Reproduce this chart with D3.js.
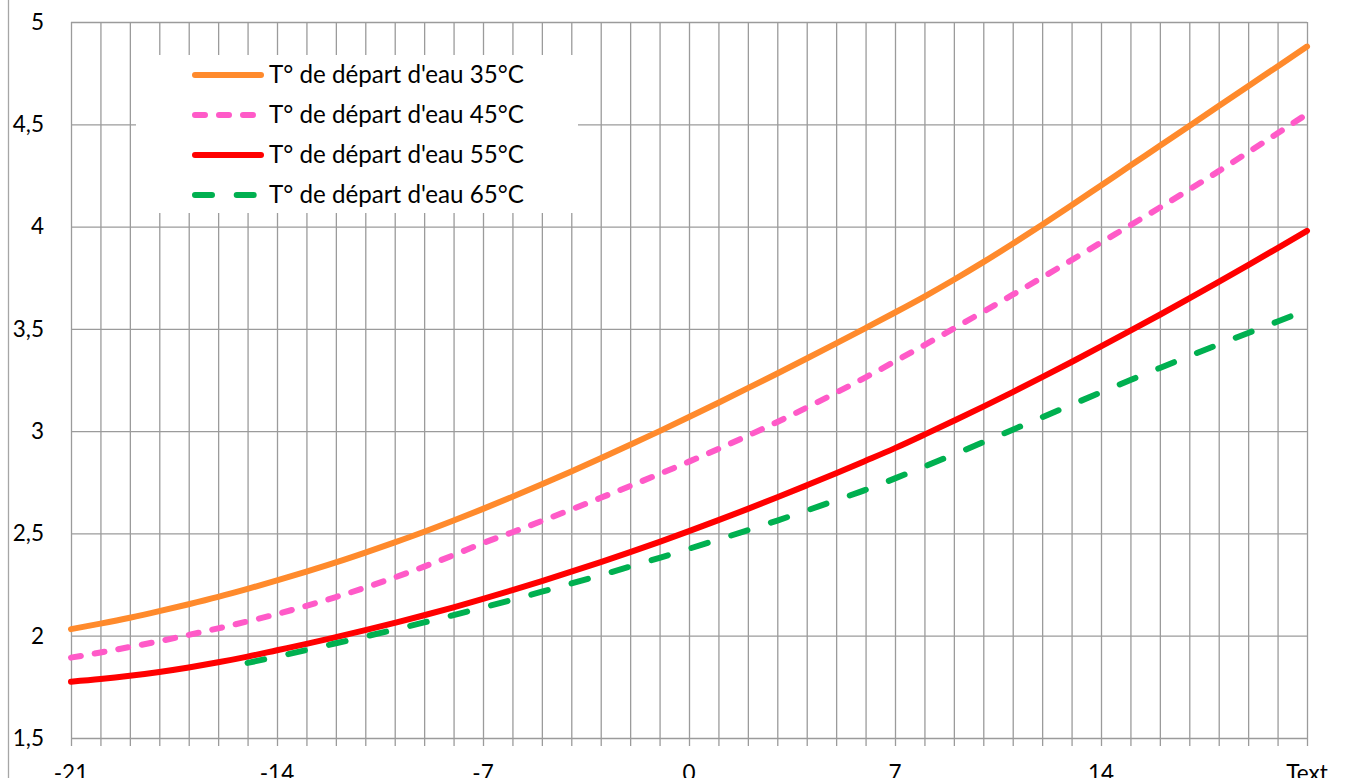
<!DOCTYPE html>
<html>
<head>
<meta charset="utf-8">
<script src="https://cdn.jsdelivr.net/npm/d3@7"></script>
<style>
  html, body { margin: 0; padding: 0; background: #fff; overflow: hidden; }
  svg { display: block; }
  text { font-family: Lato, "Open Sans", sans-serif; fill: #000; }
</style>
</head>
<body>
<svg id="chart" width="1361" height="778"></svg>
<script>
// ---- data ----
const tempExt = [-21,-20,-19,-18,-17,-16,-15,-14,-13,-12,-11,-10,-9,-8,-7,-6,-5,-4,-3,-2,-1,0,1,2,3,4,5,6,7,8,9,10,11,12,13,14,15,16,17,18,19,20,21];
const cop35 = [2.032,2.059,2.088,2.120,2.154,2.190,2.229,2.270,2.313,2.358,2.406,2.456,2.508,2.563,2.620,2.679,2.740,2.803,2.867,2.933,3.000,3.069,3.139,3.210,3.282,3.355,3.429,3.504,3.580,3.658,3.740,3.826,3.916,4.009,4.104,4.201,4.298,4.395,4.492,4.589,4.686,4.783,4.880];
const cop45 = [1.893,1.918,1.945,1.973,2.004,2.036,2.070,2.106,2.146,2.189,2.235,2.285,2.338,2.394,2.453,2.506,2.561,2.617,2.674,2.732,2.791,2.851,2.913,2.978,3.045,3.115,3.188,3.263,3.341,3.421,3.502,3.584,3.667,3.751,3.836,3.922,4.007,4.093,4.181,4.271,4.363,4.456,4.550];
const cop55 = [1.775,1.788,1.804,1.823,1.845,1.870,1.898,1.929,1.960,1.993,2.027,2.063,2.100,2.139,2.180,2.223,2.267,2.313,2.360,2.409,2.459,2.511,2.565,2.620,2.677,2.735,2.794,2.855,2.917,2.983,3.051,3.120,3.191,3.264,3.338,3.414,3.491,3.569,3.649,3.730,3.812,3.895,3.979];
const cop65 = [null,null,null,null,null,null,1.867,1.898,1.930,1.963,1.996,2.030,2.065,2.101,2.138,2.176,2.215,2.255,2.296,2.338,2.381,2.425,2.470,2.516,2.563,2.612,2.662,2.713,2.769,2.827,2.886,2.946,3.007,3.068,3.129,3.190,3.250,3.309,3.367,3.424,3.480,3.536,3.592];
const seriesNames = ["T° de départ d'eau 35°C","T° de départ d'eau 45°C","T° de départ d'eau 55°C","T° de départ d'eau 65°C"];
const xTickValues = [-21,-14,-7,0,7,14,21];
const xTickLabels = ["-21","-14","-7","0","7","14","Text"];
const yTickValues = [1.5,2,2.5,3,3.5,4,4.5,5];

// ---- styles ----
const seriesStyles = [
  {color:"#FF8A2C", dash:null,      width:6},
  {color:"#FF5AC8", dash:"10,14",   width:6},
  {color:"#FF0000", dash:null,      width:6},
  {color:"#00B050", dash:"17,24.7", width:6}
];
const seriesData = [cop35, cop45, cop55, cop65];

const svg = d3.select("#chart");
const x = d3.scaleLinear().domain([-21,21]).range([71,1307]);
const y = d3.scaleLinear().domain([1.5,5]).range([738,22]);
const gridColor = "#9b9b9b";

// outer border fragment at left
svg.append("line").attr("x1",8.5).attr("x2",8.5).attr("y1",0).attr("y2",778)
  .attr("stroke","#a6a6a6").attr("stroke-width",1.3);

// vertical grid (with tick extension below axis)
svg.append("g")
  .attr("transform","translate(0,738)")
  .call(d3.axisBottom(x).tickValues(tempExt).tickSize(-(738-22)).tickFormat(""))
  .call(g=>g.select(".domain").remove())
  .call(g=>g.selectAll(".tick line").attr("stroke",gridColor).attr("stroke-width",1.3).attr("y1",8));

// horizontal grid
svg.append("g")
  .attr("transform","translate(71,0)")
  .call(d3.axisLeft(y).tickValues(yTickValues).tickSize(-(1307-71)).tickFormat(""))
  .call(g=>g.select(".domain").remove())
  .call(g=>g.selectAll(".tick line").attr("stroke",gridColor).attr("stroke-width",1.3));

// y labels
svg.append("g").selectAll("text").data(yTickValues).join("text")
  .attr("x",44).attr("y",d=>y(d)).attr("dy","0.35em")
  .attr("text-anchor","end").attr("font-size",22.5)
  .text(d=>String(d).replace(".",","));

// x labels
svg.append("g").selectAll("text").data(xTickValues).join("text")
  .attr("x",d=>x(d)).attr("y",781)
  .attr("text-anchor","middle").attr("font-size",22.5)
  .text((d,i)=>xTickLabels[i]);

// series
const line = d3.line()
  .defined(d=>d[1]!==null)
  .x(d=>x(d[0])).y(d=>y(d[1]))
  .curve(d3.curveMonotoneX);

seriesData.forEach((vals,i)=>{
  const pts = tempExt.map((t,j)=>[t,vals[j]]);
  const st = seriesStyles[i];
  svg.append("path").datum(pts)
    .attr("d",line)
    .attr("fill","none")
    .attr("stroke",st.color)
    .attr("stroke-width",st.width)
    .attr("stroke-linecap","round")
    .attr("stroke-linejoin","round")
    .attr("stroke-dasharray",st.dash);
});

// legend
const lg = svg.append("g");
lg.append("rect").attr("x",136).attr("y",55).attr("width",442).attr("height",158).attr("fill","#fff");
seriesNames.forEach((name,i)=>{
  const cy = 75 + i*40;
  const st = seriesStyles[i];
  lg.append("line").attr("x1",195).attr("x2",261).attr("y1",cy).attr("y2",cy)
    .attr("stroke",st.color).attr("stroke-width",st.width)
    .attr("stroke-linecap","round").attr("stroke-dasharray",st.dash);
  const t = lg.append("text").attr("x",269).attr("y",cy).attr("dy","0.35em")
    .attr("font-size",20).text(name);
  const w = t.node().getComputedTextLength();
  t.attr("font-size", 20*255/w);
});
</script>
</body>
</html>
